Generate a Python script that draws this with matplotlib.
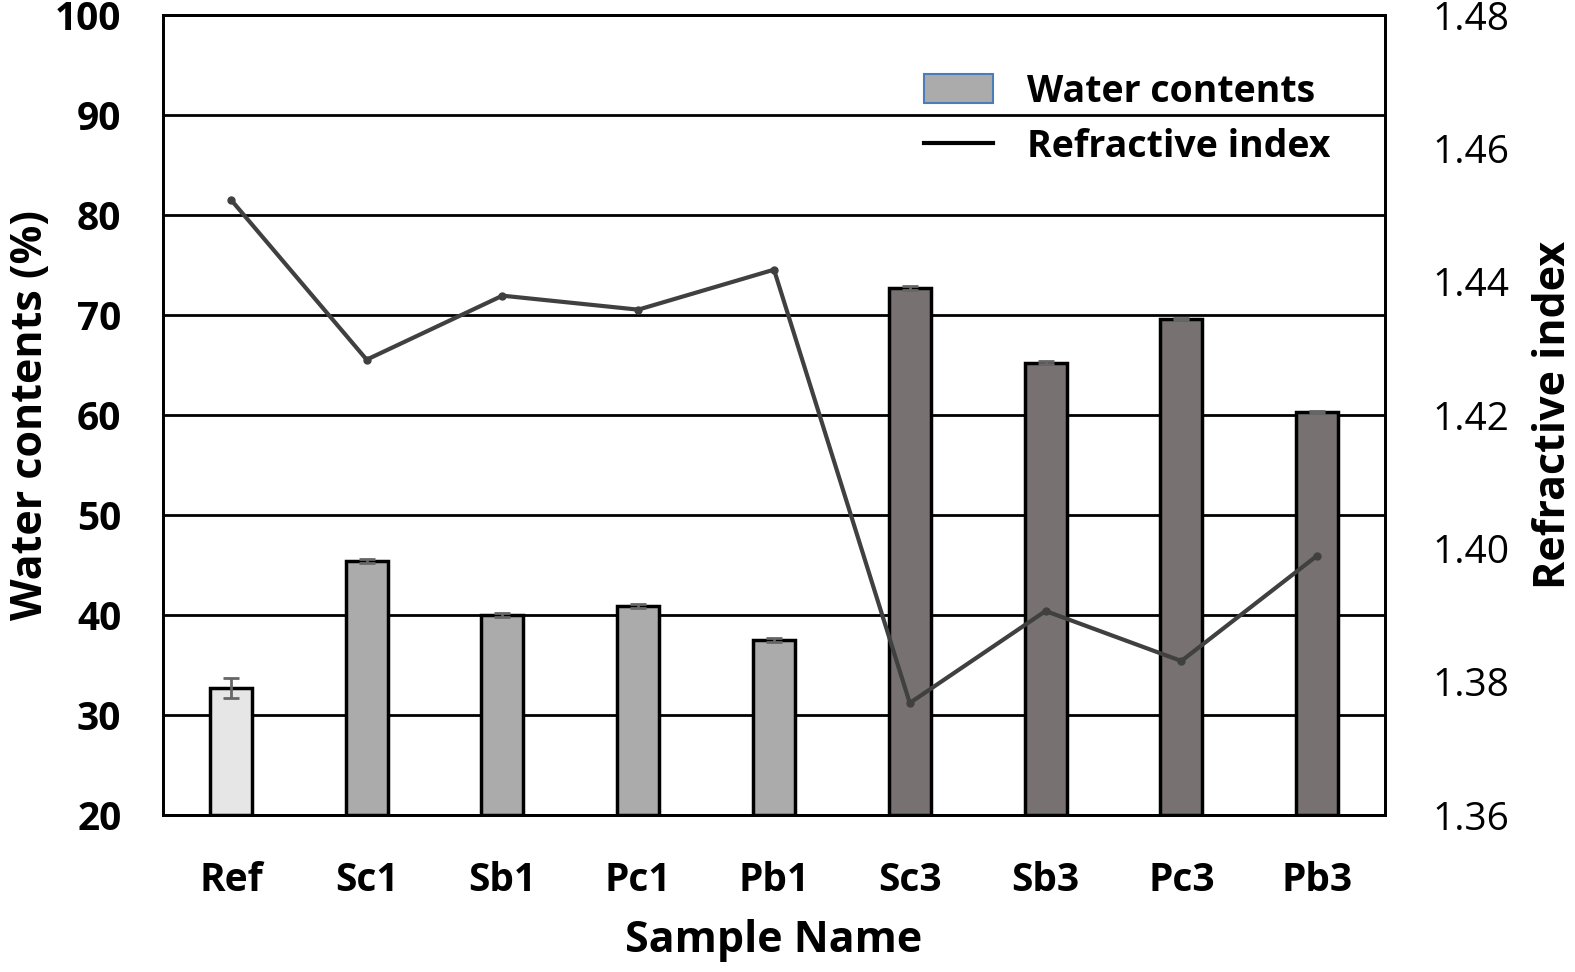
import matplotlib
matplotlib.use("Agg")
import matplotlib.pyplot as plt
from matplotlib.patches import Patch
from matplotlib.lines import Line2D

samples = ["Ref", "Sc1", "Sb1", "Pc1", "Pb1", "Sc3", "Sb3", "Pc3", "Pb3"]
water = [32.7, 45.4, 40.0, 40.9, 37.5, 72.7, 65.2, 69.6, 60.3]
water_err = [1.0, 0.2, 0.2, 0.2, 0.2, 0.2, 0.15, 0.1, 0.1]
refr = [1.4523, 1.4283, 1.4379, 1.4358, 1.4418, 1.3768, 1.3906, 1.3831, 1.3989]
bar_colors = ["#e6e6e6", "#ababab", "#ababab", "#ababab", "#ababab",
              "#777171", "#777171", "#777171", "#777171"]
left_ticks = [20, 30, 40, 50, 60, 70, 80, 90, 100]
right_ticks = [1.36, 1.38, 1.40, 1.42, 1.44, 1.46, 1.48]

plt.rcParams['font.family'] = ['Open Sans', 'DejaVu Sans']

fig = plt.figure(figsize=(15.75, 9.72), dpi=100)
ax = fig.add_axes([163/1575, 1 - 815/972, (1385-163)/1575, 800/972])
ax2 = ax.twinx()

x = list(range(len(samples)))
ax.set_axisbelow(True)
ax.yaxis.grid(True, color="black", linewidth=2)
ax.bar(x, [w - 20 for w in water], bottom=20, width=0.31, color=bar_colors,
       edgecolor="black", linewidth=2.5, zorder=3)
ax.errorbar(x, water, yerr=water_err, fmt="none", ecolor="#666666",
            elinewidth=2, capsize=6, capthick=2, zorder=4)
ax.set_xlim(-0.5, len(samples) - 0.5)
ax.set_ylim(20, 100)
ax.set_yticks(left_ticks)
ax.set_xticks(x)
ax.set_xticklabels(samples, fontweight="bold")
for lbl in ax.get_yticklabels():
    lbl.set_fontweight("bold")
ax.tick_params(axis="both", length=0, labelsize=28)
ax.tick_params(axis="y", pad=30)
ax.tick_params(axis="x", pad=33)
ax.set_xlabel("Sample Name", fontsize=31, fontweight="bold", labelpad=14)
ax.set_ylabel("Water contents (%)", fontsize=31, fontweight="bold", labelpad=2)

ax2.plot(x, refr, color="#404040", linewidth=3, marker="o", markersize=5, zorder=5)
ax2.set_ylim(1.36, 1.48)
ax2.set_yticks(right_ticks)
ax2.set_yticklabels([f"{t:.2f}" for t in right_ticks])
ax2.tick_params(axis="y", length=0, labelsize=28, pad=34)
ax2.set_ylabel("Refractive index", fontsize=31, fontweight="bold", labelpad=16)

for a in (ax, ax2):
    for s in a.spines.values():
        s.set_color("black")
        s.set_linewidth(2)

handles = [Patch(facecolor="#ababab", edgecolor="#4a7ebb", linewidth=1.5),
           Line2D([0], [0], color="black", linewidth=3)]
leg = ax2.legend(handles, ["Water contents", "Refractive index"], loc="upper left",
                 bbox_to_anchor=(0.595, 0.97), frameon=False,
                 prop={"size": 27, "weight": "bold"}, handlelength=1.85,
                 handleheight=0.8, handletextpad=0.9, labelspacing=0.45)

fig.savefig("out.png", dpi=100)
